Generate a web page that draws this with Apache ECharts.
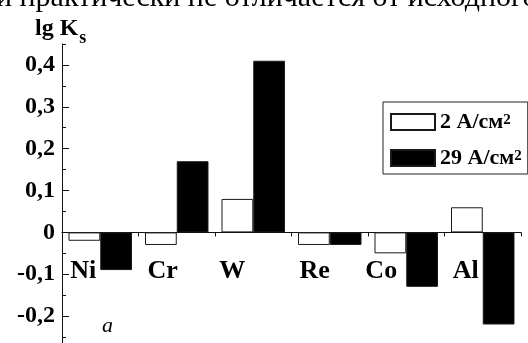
<!DOCTYPE html>
<html>
<head>
<meta charset="utf-8">
<script src="https://cdn.jsdelivr.net/npm/echarts@6/dist/echarts.min.js"></script>
<style>
  html, body { margin: 0; padding: 0; background: #fff; }
  #chart { width: 528px; height: 343px; }
</style>
</head>
<body>
<div id="chart"></div>
<script>
// Elements and lg Ks at two current densities
const categories = ['Ni', 'Cr', 'W', 'Re', 'Co', 'Al'];
const seriesNames = ['2 A/см²', '29 A/см²'];
const lowDensity = [-0.02, -0.03, 0.08, -0.03, -0.05, 0.06];
const highDensity = [-0.09, 0.17, 0.41, -0.03, -0.13, -0.22];

// value axis range and steps
const yMin = -0.3;
const yMax = 0.45;
const yMajorStep = 0.1;
const yMinorStep = 0.05;

// horizontal nudge (px) of each element name under the axis
const labelShift = [-17, -14, -21, -15, -25, -17];

const serif = '"Liberation Serif", "Times New Roman", serif';
const ink = '#111';

// plot area; its bottom runs past the lower edge of the page
const G = { left: 62, top: 44, width: 459, height: 314 };
const pxPerUnit = G.height / (yMax - yMin);
const topMajor = Math.floor(yMax / yMajorStep + 1e-9) * yMajorStep;
const majorGridTop = G.top + (yMax - topMajor) * pxPerUnit;
const zeroY = G.top + yMax * pxPerUnit;

const nameRich = {};
categories.forEach((c, i) => {
  const s = labelShift[i];
  nameRich['c' + i] = {
    fontFamily: serif, fontWeight: 'bold', fontSize: 26, color: '#000',
    padding: s < 0 ? [0, -2 * s, 0, 0] : [0, 0, 0, 2 * s]
  };
});

function yLabel(v) {
  const r = Math.round(v * 100);
  if (r % 10 !== 0) return '';
  if (r === 0) return '0';
  return (r / 100).toFixed(1).replace('.', ',');
}

const chart = echarts.init(document.getElementById('chart'), null, { renderer: 'canvas' });
chart.setOption({
  backgroundColor: '#fff',
  animation: false,
  grid: [
    // main plot
    { left: G.left, top: G.top, width: G.width, height: G.height, containLabel: false, outerBoundsMode: 'none' },
    // carries the longer ticks at the labelled values
    { left: G.left, top: majorGridTop, width: G.width, height: G.top + G.height - majorGridTop, containLabel: false, outerBoundsMode: 'none' },
    // upper half, whose lower edge is the zero line: carries the element names
    { left: G.left, top: G.top, width: G.width, height: zeroY - G.top, containLabel: false, outerBoundsMode: 'none' }
  ],
  xAxis: [
    {
      type: 'category', gridIndex: 0, data: categories,
      axisLine: { onZero: true, lineStyle: { color: ink, width: 1 } },
      axisTick: { show: true, length: 4, lineStyle: { color: ink, width: 1 } },
      axisLabel: { show: false },
      splitLine: { show: false }
    },
    { type: 'category', gridIndex: 1, data: categories, show: false },
    {
      type: 'category', gridIndex: 2, data: categories, position: 'bottom',
      axisLine: { show: false }, axisTick: { show: false }, splitLine: { show: false },
      axisLabel: {
        margin: 26, interval: 0,
        formatter: (v, i) => '{c' + i + '|' + v + '}',
        rich: nameRich
      }
    }
  ],
  yAxis: [
    {
      type: 'value', gridIndex: 0, min: yMin, max: yMax, interval: yMinorStep,
      axisLine: { show: true, lineStyle: { color: ink, width: 1 } },
      axisTick: { show: true, inside: true, length: 4, lineStyle: { color: ink, width: 1 } },
      axisLabel: {
        formatter: yLabel, margin: 7,
        fontFamily: serif, fontWeight: 'bold', fontSize: 24, color: '#000'
      },
      splitLine: { show: false }
    },
    {
      type: 'value', gridIndex: 1, min: yMin, max: topMajor, interval: yMajorStep,
      axisLine: { show: false },
      axisTick: { show: true, inside: true, length: 7, lineStyle: { color: ink, width: 1 } },
      axisLabel: { show: false },
      splitLine: { show: false }
    },
    { type: 'value', gridIndex: 2, min: 0, max: yMax, show: false }
  ],
  legend: {
    data: seriesNames,
    orient: 'vertical',
    left: 383, top: 102,
    padding: [9, 6, 5, 7],
    itemWidth: 44, itemHeight: 16, itemGap: 14,
    borderColor: '#222', borderWidth: 1,
    icon: 'rect',
    selectedMode: false,
    formatter: n => '{t|' + n.replace('²', '') + '}{s|2}',
    textStyle: {
      rich: {
        t: { fontFamily: serif, fontWeight: 'bold', fontSize: 22, lineHeight: 18, color: '#000' },
        s: { fontFamily: serif, fontWeight: 'bold', fontSize: 15, lineHeight: 12, color: '#000', verticalAlign: 'top' }
      }
    }
  },
  series: [
    {
      type: 'bar', name: seriesNames[0], data: lowDensity,
      xAxisIndex: 0, yAxisIndex: 0,
      barGap: '0%', barCategoryGap: '17%',
      itemStyle: { color: '#fff', borderColor: '#1a1a1a', borderWidth: 1 }
    },
    {
      type: 'bar', name: seriesNames[1], data: highDensity,
      xAxisIndex: 0, yAxisIndex: 0,
      barGap: '0%', barCategoryGap: '17%',
      itemStyle: { color: '#000', borderColor: '#1a1a1a', borderWidth: 1 }
    }
  ],
  graphic: [
    {
      type: 'text', left: -4, top: -17, silent: true,
      style: { text: 'и практически не отличается от исходного', font: '30px ' + serif, fill: '#000' }
    },
    {
      type: 'text', left: 35, top: 17, silent: true,
      style: {
        text: '{m|lg K}{s|s}',
        rich: {
          m: { fontFamily: serif, fontWeight: 'bold', fontSize: 24, lineHeight: 24, color: '#000' },
          s: { fontFamily: serif, fontWeight: 'bold', fontSize: 18, lineHeight: 14, color: '#000', verticalAlign: 'bottom', padding: [0, 0, -6, 1] }
        }
      }
    },
    {
      type: 'text', left: 102, top: 315, silent: true,
      style: { text: 'а', font: 'italic 22px ' + serif, fill: '#000' }
    }
  ]
});
</script>
</body>
</html>
